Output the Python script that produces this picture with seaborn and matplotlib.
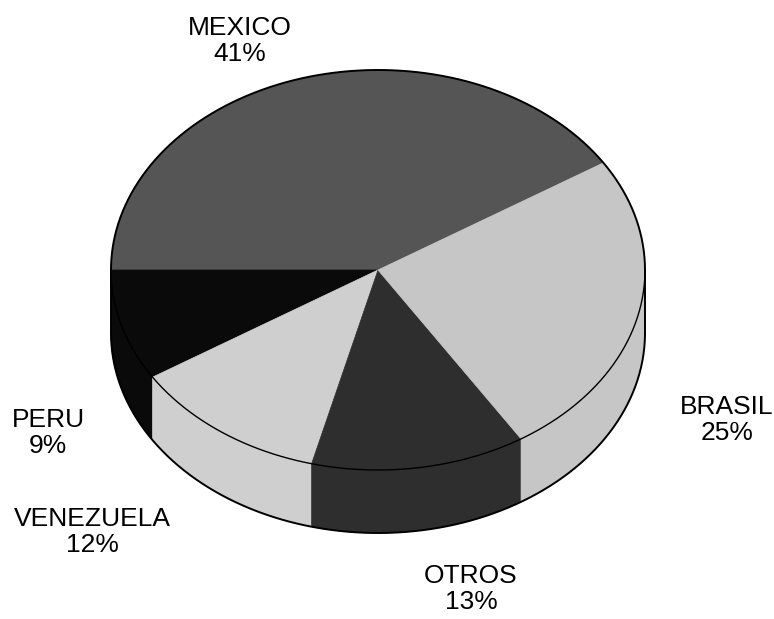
import numpy as np
import matplotlib
matplotlib.use("Agg")
import matplotlib.pyplot as plt
import seaborn as sns
from matplotlib.patches import Polygon

# data
countries = ["MEXICO", "PERU", "VENEZUELA", "OTROS", "BRASIL"]
shares = [41, 9, 12, 13, 25]

# styling / layout
colors = ["#555555", "#0a0a0a", "#cfcfcf", "#2e2e2e", "#c6c6c6"]
label_xy = [(240, 41), (48, 433), (92, 532), (471, 589), (727, 420)]
start_angle = 32.4
cx, cy, rx, ry, depth = 378, 270, 267, 200, 63


def arc(t0, t1, dy=0, n=200):
    t = np.radians(np.linspace(t0, t1, n))
    return np.column_stack([cx + rx * np.cos(t), cy - ry * np.sin(t) + dy])


sns.set_theme(style="white")
fig = plt.figure(figsize=(7.74, 6.19), dpi=100)
ax = fig.add_axes([0, 0, 1, 1])
ax.set_xlim(0, 774)
ax.set_ylim(619, 0)
ax.axis("off")

# wedge angles (counter clockwise from start angle)
edges = start_angle + 360 * np.concatenate([[0], np.cumsum(shares)]) / sum(shares)

# side walls (front half only)
for a0, a1, col in zip(edges[:-1], edges[1:], colors):
    for off in (0, 360):
        lo, hi = max(a0 - off, 180), min(a1 - off, 360)
        if hi > lo:
            pts = np.vstack([arc(lo, hi), arc(lo, hi, depth)[::-1]])
            ax.add_patch(Polygon(pts, closed=True, fc=col, ec=col, lw=0.5))

# top face
for a0, a1, col in zip(edges[:-1], edges[1:], colors):
    pts = np.vstack([[cx, cy], arc(a0, a1)])
    ax.add_patch(Polygon(pts, closed=True, fc=col, ec=col, lw=0.5))

# outlines
top = arc(0, 180)
ax.plot(top[:, 0], top[:, 1], color="black", lw=1.4)
front = arc(180, 360)
ax.plot(front[:, 0], front[:, 1], color="black", lw=1.0)
bottom = arc(180, 360, depth)
ax.plot(bottom[:, 0], bottom[:, 1], color="black", lw=1.4)
ax.plot([cx - rx, cx - rx], [cy, cy + depth], color="black", lw=1.4)
ax.plot([cx + rx, cx + rx], [cy, cy + depth], color="black", lw=1.4)

for name, val, (x, y) in zip(countries, shares, label_xy):
    ax.text(x, y, f"{name}\n{val}%", ha="center", va="center", fontsize=19,
            family=["Liberation Sans", "DejaVu Sans"], linespacing=1.15,
            color="black")

fig.savefig("out.png", dpi=100)
